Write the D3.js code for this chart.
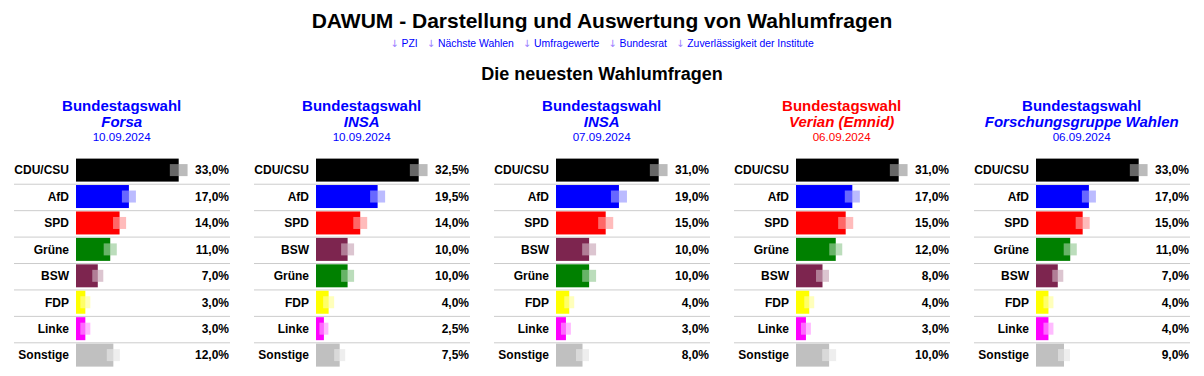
<!DOCTYPE html>
<html>
<head>
<meta charset="utf-8">
<script src="https://cdn.jsdelivr.net/npm/d3@7"></script>
<style>
  body { margin: 0; background: #fff; }
  svg { display: block; font-family: Arial, "Liberation Sans", sans-serif; }
</style>
</head>
<body>
<div id="umfragen"></div>
<script>
/* DAWUM - neueste Wahlumfragen */

const institute = ["Forsa", "INSA", "INSA", "Verian (Emnid)", "Forschungsgruppe Wahlen"];
const daten = ["10.09.2024", "10.09.2024", "07.09.2024", "06.09.2024", "06.09.2024"];
const hervorgehoben = [false, false, false, true, false];

const parteien = [
  ["CDU/CSU", "AfD", "SPD", "Grüne", "BSW", "FDP", "Linke", "Sonstige"],
  ["CDU/CSU", "AfD", "SPD", "BSW", "Grüne", "FDP", "Linke", "Sonstige"],
  ["CDU/CSU", "AfD", "SPD", "BSW", "Grüne", "FDP", "Linke", "Sonstige"],
  ["CDU/CSU", "AfD", "SPD", "Grüne", "BSW", "FDP", "Linke", "Sonstige"],
  ["CDU/CSU", "AfD", "SPD", "Grüne", "BSW", "FDP", "Linke", "Sonstige"]
];

const werte = [
  [33.0, 17.0, 14.0, 11.0, 7.0, 3.0, 3.0, 12.0],
  [32.5, 19.5, 14.0, 10.0, 10.0, 4.0, 2.5, 7.5],
  [31.0, 19.0, 15.0, 10.0, 10.0, 4.0, 3.0, 8.0],
  [31.0, 17.0, 15.0, 12.0, 8.0, 4.0, 3.0, 10.0],
  [33.0, 17.0, 15.0, 11.0, 7.0, 4.0, 4.0, 9.0]
];

// half width of the light box round the bar end, in percentage points
const fehler = [
  [2.85, 2.25, 2.1, 2.1, 1.77, 1.6, 1.6, 2.1],
  [2.8, 2.37, 2.2, 2.05, 2.05, 1.74, 1.42, 1.74],
  [2.67, 2.42, 2.27, 2.1, 2.1, 1.5, 1.5, 1.96],
  [2.67, 2.27, 2.27, 1.96, 1.96, 1.5, 1.5, 2.1],
  [2.85, 2.25, 2.25, 2.1, 1.77, 1.6, 1.6, 1.93]
];

const links = ["PZI", "Nächste Wahlen", "Umfragewerte", "Bundesrat", "Zuverlässigkeit der Institute"];

const farben = {
  "CDU/CSU": "#000000", "AfD": "#0000ff", "SPD": "#ff0000", "Grüne": "#008000",
  "BSW": "#7d254f", "FDP": "#ffff00", "Linke": "#ff00ff", "Sonstige": "#c0c0c0"
};

const width = 1204, height = 376,
  panelWidth = 240,
  rowTop = 157.3, rowStep = 26.43, barHeight = 23;

const svg = d3.select("#umfragen")
  .append("svg")
  .attr("width", width)
  .attr("height", height)
  .attr("viewBox", [0, 0, width, height]);

svg.append("text")
  .attr("x", width / 2)
  .attr("y", 28)
  .attr("text-anchor", "middle")
  .attr("font-size", "21px")
  .attr("font-weight", "bold")
  .text("DAWUM - Darstellung und Auswertung von Wahlumfragen");

// link line, laid out by measured widths
const linkG = svg.append("g");
const items = links.map(l => {
  const t = linkG.append("text")
    .attr("y", 47)
    .attr("font-size", "10.4px");
  t.append("tspan")
    .attr("fill", "#9a7dff")
    .attr("font-family", "'DejaVu Sans', sans-serif")
    .attr("font-size", "10px")
    .text("↓");
  t.append("tspan").attr("fill", "#0000ff").text(" " + l);
  return t;
});
const gap = 9;
const breiten = items.map(t => t.node().getComputedTextLength());
const total = d3.sum(breiten) + gap * (items.length - 1);
let cx = width / 2 - total / 2;
items.forEach((t, i) => {
  t.attr("x", cx);
  cx += breiten[i] + gap;
});

svg.append("text")
  .attr("x", width / 2)
  .attr("y", 80)
  .attr("text-anchor", "middle")
  .attr("font-size", "18px")
  .attr("font-weight", "bold")
  .text("Die neuesten Wahlumfragen");

const fmt = d => d3.format(".1f")(d).replace(".", ",") + "%";

institute.forEach((inst, p) => {
  const g = svg.append("g")
    .attr("transform", `translate(${p * panelWidth},0)`);

  const kopfFarbe = hervorgehoben[p] ? "#ff0000" : "#0000ff";
  const mitte = 121.7;

  g.append("text")
    .attr("x", mitte).attr("y", 111)
    .attr("text-anchor", "middle")
    .attr("font-size", "15px").attr("font-weight", "bold")
    .attr("fill", kopfFarbe)
    .text("Bundestagswahl");

  g.append("text")
    .attr("x", mitte).attr("y", 127)
    .attr("text-anchor", "middle")
    .attr("font-size", "15px").attr("font-weight", "bold")
    .attr("font-style", "italic")
    .attr("fill", kopfFarbe)
    .text(inst);

  g.append("text")
    .attr("x", mitte).attr("y", 141)
    .attr("text-anchor", "middle")
    .attr("font-size", "11.6px")
    .attr("fill", kopfFarbe)
    .text(daten[p]);

  const rows = parteien[p].map((name, i) => ({ name, wert: werte[p][i], fehler: fehler[p][i] }));

  let x = d3.scaleLinear()
    .domain([0, d3.max(rows, d => d.wert)])
    .range([76, 178.7]);

  let y = d3.scaleBand()
    .domain(rows.map(d => d.name))
    .range([rowTop, rowTop + rowStep * rows.length])
    .paddingInner(0);

  // separator lines between rows
  g.selectAll("line.trenner")
    .data(rows.slice(1))
    .join("line")
    .attr("class", "trenner")
    .attr("x1", 14).attr("x2", 230)
    .attr("y1", d => y(d.name) + 0.5)
    .attr("y2", d => y(d.name) + 0.5)
    .attr("stroke", "#cccccc")
    .attr("stroke-width", 1);

  g.selectAll("rect.balken")
    .data(rows)
    .join("rect")
    .attr("class", "balken")
    .attr("x", x(0))
    .attr("y", d => y(d.name) + 1.3)
    .attr("width", d => x(d.wert) - x(0))
    .attr("height", barHeight)
    .attr("fill", d => farben[d.name]);

  g.selectAll("rect.fehler")
    .data(rows)
    .join("rect")
    .attr("class", "fehler")
    .attr("x", d => x(d.wert - d.fehler))
    .attr("y", d => y(d.name) + 1.3 + (barHeight - 12) / 2)
    .attr("width", d => x(d.wert + d.fehler) - x(d.wert - d.fehler))
    .attr("height", 12)
    .attr("fill", d => d3.interpolateRgb(farben[d.name], "#ffffff")(0.6))
    .attr("fill-opacity", 0.67);

  g.selectAll("text.partei")
    .data(rows)
    .join("text")
    .attr("class", "partei")
    .attr("x", 69)
    .attr("y", d => y(d.name) + 1.3 + barHeight / 2 + 4.3)
    .attr("text-anchor", "end")
    .attr("font-size", "12px").attr("font-weight", "bold")
    .text(d => d.name);

  g.selectAll("text.wert")
    .data(rows)
    .join("text")
    .attr("class", "wert")
    .attr("x", 229)
    .attr("y", d => y(d.name) + 1.3 + barHeight / 2 + 4.3)
    .attr("text-anchor", "end")
    .attr("font-size", "12px").attr("font-weight", "bold")
    .text(d => fmt(d.wert));
});
</script>
</body>
</html>
